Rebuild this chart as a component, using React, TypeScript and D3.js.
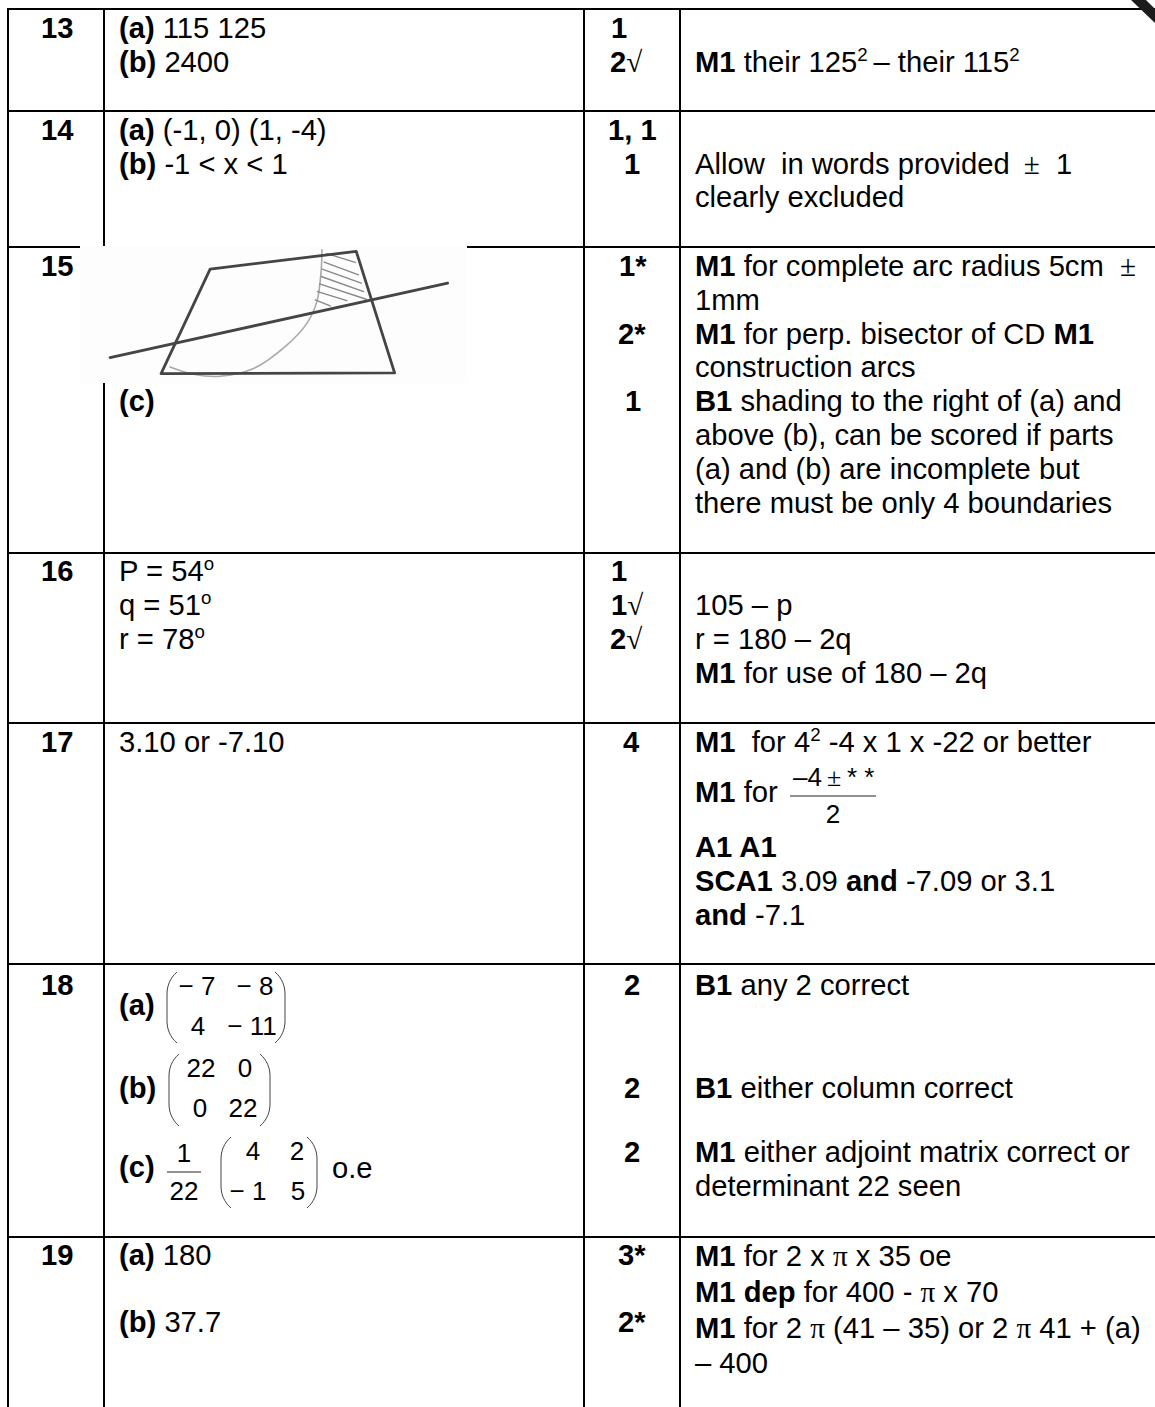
import React from "react";
import * as d3 from "d3";

// table text. {b|..} bold, {s|..} superscript, {y|..} symbol face
const questionLabels = ["13", "14", "15", "16", "17", "18", "19"];
const questionBaselines = [38, 140, 276, 581, 752, 995, 1265];

const answerLines = [
  "{b|(a)} 115 125",
  "{b|(b)} 2400",
  "{b|(a)} (-1, 0) (1, -4)",
  "{b|(b)} -1 < x < 1",
  "{b|(c)}",
  "P = 54{s|o}",
  "q = 51{s|o}",
  "r = 78{s|o}",
  "3.10 or -7.10",
  "{b|(a)}",
  "{b|(b)}",
  "{b|(c)}",
  "o.e",
  "{b|(a)} 180",
  "{b|(b)} 37.7",
];
const answerX = [119, 119, 119, 119, 119, 119, 119, 119, 119, 119, 119, 119, 332, 119, 119];
const answerBaselines = [38, 72, 140, 174, 411, 581, 615, 649, 752, 1015, 1098, 1177, 1178, 1265, 1332];

const markLines = [
  "1", "2{y|√}", "1, 1", "1", "1*", "2*", "1", "1", "1{y|√}", "2{y|√}", "4", "2", "2", "2", "3*", "2*",
];
const markX = [611, 610, 608, 624, 619, 618, 625, 611, 611, 610, 623, 624, 624, 624, 618, 618];
const markBaselines = [38, 72, 140, 174, 276, 344, 411, 581, 615, 649, 752, 995, 1098, 1162, 1265, 1332];

const noteLines = [
  "{b|M1} their 125{s|2}\u2009– their 115{s|2}",
  "Allow  in words provided\u2009 {y|±}  1",
  "clearly excluded",
  "{b|M1} for complete arc radius 5cm  {y|±}",
  "1mm",
  "{b|M1} for perp. bisector of CD {b|M1}",
  "construction arcs",
  "{b|B1} shading to the right of (a) and",
  "above (b), can be scored if parts",
  "(a) and (b) are incomplete but",
  "there must be only 4 boundaries",
  "105 – p",
  "r = 180 – 2q",
  "{b|M1} for use of 180 – 2q",
  "{b|M1}  for 4{s|2} -4 x 1 x -22 or better",
  "{b|M1} for",
  "{b|A1 A1}",
  "{b|SCA1} 3.09 {b|and} -7.09 or 3.1",
  "{b|and} -7.1",
  "{b|B1} any 2 correct",
  "{b|B1} either column correct",
  "{b|M1} either adjoint matrix correct or",
  "determinant 22 seen",
  "{b|M1} for 2 x {y|π} x 35 oe",
  "{b|M1 dep} for 400 - {y|π} x 70",
  "{b|M1} for 2 {y|π} (41 – 35) or 2 {y|π} 41 + (a)",
  "– 400",
];
const noteBaselines = [
  72, 174, 207, 276, 310, 344, 377, 411, 445, 479, 513, 615, 649, 683, 752, 802, 857, 891, 925, 995, 1098, 1162,
  1196, 1266, 1302, 1338, 1373,
];

// matrices and fractions
const matrixCells = [
  ["− 7", "− 8", "4", "− 11"],
  ["22", "0", "0", "22"],
  ["4", "2", "− 1", "5"],
];
const matrixColumns = [
  [197, 255, 198, 252],
  [201, 245, 200, 243],
  [253, 297, 248, 298],
];
const matrixBaselines = [
  [995, 1035],
  [1077, 1117],
  [1160, 1200],
];
const matrixBounds = [
  [167, 285, 972, 1043],
  [169, 270, 1054, 1126],
  [221, 317, 1137, 1208],
];

// table rules
const rowRules = [9, 111, 247, 553, 723, 964, 1237];
const columnRules = [8, 104, 584, 680];

// construction figure in figure units
const quadrilateral: [number, number][] = [
  [450, 118],
  [888, 65],
  [1003, 428],
  [303, 430],
];
const bisector: [number, number][] = [
  [150, 382],
  [1162, 160],
];
const arcPoints: [number, number][] = [
  [785, 60],
  [783, 120],
  [770, 215],
  [740, 280],
  [680, 345],
  [580, 415],
  [480, 438],
  [400, 432],
  [330, 410],
];
const hatching: [number, number][][] = [
  [[800, 72], [885, 98]],
  [[792, 97], [895, 135]],
  [[786, 118], [903, 160]],
  [[783, 140], [910, 185]],
  [[778, 162], [918, 208]],
  [[772, 185], [860, 212]],
  [[765, 210], [810, 228]],
];

const width = 1155;
const height = 1407;
const fontSize = 29.2;
const mathSize = 26;
const sans = "'Liberation Sans', Arial, sans-serif";
const serif = "'Liberation Serif', serif";

const figX = d3.scaleLinear().domain([60, 1220]).range([80, 467]);
const figY = d3.scaleLinear().domain([52, 458]).range([247, 383]);
const figLine = d3
  .line<[number, number]>()
  .x((d) => figX(d[0]))
  .y((d) => figY(d[1]));
const arcLine = d3
  .line<[number, number]>()
  .x((d) => figX(d[0]))
  .y((d) => figY(d[1]))
  .curve(d3.curveCatmullRom);

function RichText({ text, x, y, bold }: { text: string; x: number; y: number; bold?: boolean }) {
  const parts: React.ReactNode[] = [];
  const re = /\{(\w)\|([^}]*)\}/g;
  let last = 0;
  let m: RegExpExecArray | null;
  let key = 0;
  let raised = false;
  const plain = (s: string) => {
    const dy = raised ? fontSize * 0.36 : undefined;
    raised = false;
    parts.push(
      <tspan key={key++} dy={dy} fontWeight={bold ? 700 : 400}>
        {s}
      </tspan>
    );
  };
  while ((m = re.exec(text))) {
    if (m.index > last) plain(text.slice(last, m.index));
    const kind = m[1];
    if (kind === "s") {
      parts.push(
        <tspan key={key++} dy={-fontSize * 0.36} fontSize={fontSize * 0.64}>
          {m[2]}
        </tspan>
      );
      raised = true;
    } else if (kind === "y") {
      parts.push(
        <tspan key={key++} fontFamily={serif} fontWeight={400} dy={raised ? fontSize * 0.36 : undefined}>
          {m[2]}
        </tspan>
      );
      raised = false;
    } else {
      parts.push(
        <tspan key={key++} fontWeight={700} dy={raised ? fontSize * 0.36 : undefined}>
          {m[2]}
        </tspan>
      );
      raised = false;
    }
    last = m.index + m[0].length;
  }
  if (last < text.length) plain(text.slice(last));
  return (
    <text x={x} y={y} fontFamily={sans} fontSize={fontSize} fill="#000" style={{ whiteSpace: "pre" }}>
      {parts}
    </text>
  );
}

// thin round bracket pair around a matrix
function bracketPath(x0: number, x1: number, y0: number, y1: number) {
  const p = d3.path();
  const bow = 10;
  const run = 22;
  p.moveTo(x0 + bow, y0);
  p.bezierCurveTo(x0 + 3, y0 + 6, x0, y0 + 14, x0, y0 + run);
  p.lineTo(x0, y1 - run);
  p.bezierCurveTo(x0, y1 - 14, x0 + 3, y1 - 6, x0 + bow, y1);
  p.moveTo(x1 - bow, y0);
  p.bezierCurveTo(x1 - 3, y0 + 6, x1, y0 + 14, x1, y0 + run);
  p.lineTo(x1, y1 - run);
  p.bezierCurveTo(x1, y1 - 14, x1 - 3, y1 - 6, x1 - bow, y1);
  return p.toString();
}

export default function App() {
  return (
    <svg
      width={width}
      height={height}
      viewBox={`0 0 ${width} ${height}`}
      style={{ position: "absolute", left: 0, top: 0, background: "#fff" }}
    >
      <defs>
        <filter id="soft" x="-5%" y="-5%" width="110%" height="110%">
          <feGaussianBlur stdDeviation="0.7" />
        </filter>
      </defs>

      {rowRules.map((y) => (
        <line key={y} x1={7} x2={width} y1={y} y2={y} stroke="#000" strokeWidth={2} />
      ))}
      {columnRules.map((x) => (
        <line key={x} x1={x} x2={x} y1={8} y2={height} stroke="#000" strokeWidth={2} />
      ))}

      {/* the pasted figure covers part of the rules */}
      <rect x={80} y={246} width={387} height={137} fill="#fdfdfd" />
      <g filter="url(#soft)" fill="none" strokeLinecap="round">
        <path d={arcLine(arcPoints) ?? ""} stroke="#aaa" strokeWidth={1.6} />
        {hatching.map((seg, i) => (
          <path key={i} d={figLine(seg) ?? ""} stroke="#888" strokeWidth={1.4} />
        ))}
        <path d={(figLine(quadrilateral) ?? "") + "Z"} stroke="#444" strokeWidth={2.8} strokeLinejoin="round" />
        <path d={figLine(bisector) ?? ""} stroke="#444" strokeWidth={2.8} />
      </g>

      {questionLabels.map((t, i) => (
        <RichText key={t} text={t} x={41} y={questionBaselines[i]} bold />
      ))}
      {answerLines.map((t, i) => (
        <RichText key={i} text={t} x={answerX[i]} y={answerBaselines[i]} />
      ))}
      {markLines.map((t, i) => (
        <RichText key={i} text={t} x={markX[i]} y={markBaselines[i]} bold />
      ))}
      {noteLines.map((t, i) => (
        <RichText key={i} text={t} x={695} y={noteBaselines[i]} />
      ))}

      {/* matrices */}
      {matrixCells.map((cells, m) => (
        <g key={m}>
          <path d={bracketPath(matrixBounds[m][0], matrixBounds[m][1], matrixBounds[m][2], matrixBounds[m][3])} fill="none" stroke="#444" strokeWidth={1} />
          {cells.map((c, i) => (
            <text
              key={i}
              x={matrixColumns[m][i]}
              y={matrixBaselines[m][i < 2 ? 0 : 1]}
              fontFamily={sans}
              fontSize={mathSize}
              textAnchor="middle"
            >
              {c}
            </text>
          ))}
        </g>
      ))}

      {/* fraction 1/22 */}
      <text x={184} y={1162} fontFamily={sans} fontSize={mathSize} textAnchor="middle">1</text>
      <line x1={167} x2={201} y1={1172} y2={1172} stroke="#222" strokeWidth={1} />
      <text x={184} y={1200} fontFamily={sans} fontSize={mathSize} textAnchor="middle">22</text>

      {/* fraction in row 17 */}
      <text x={793} y={786} fontFamily={sans} fontSize={mathSize}>–4</text>
      <text x={827} y={786} fontFamily={serif} fontSize={mathSize}>±</text>
      <text x={847} y={786} fontFamily={sans} fontSize={mathSize}>* *</text>
      <line x1={790} x2={876} y1={796} y2={796} stroke="#222" strokeWidth={1} />
      <text x={833} y={823} fontFamily={sans} fontSize={mathSize} textAnchor="middle">2</text>

      {/* smudge at the scan's corner */}
      <polygon points="1131,0 1146,0 1155,9 1155,23" fill="#1c1c1c" />
    </svg>
  );
}
